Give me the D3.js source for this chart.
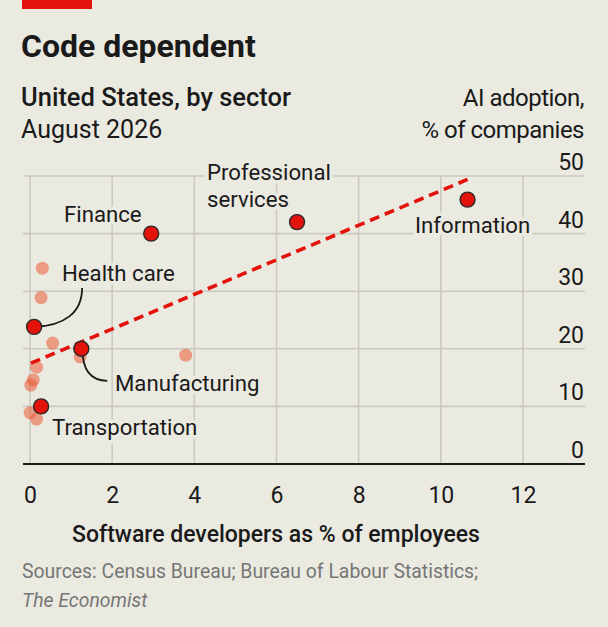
<!DOCTYPE html>
<html><head><meta charset="utf-8">
<script src="https://cdn.jsdelivr.net/npm/d3@7"></script>
<style>
html,body{margin:0;padding:0;background:#ebeae1;}
svg{display:block;}
text{font-family:"Roboto","Liberation Sans",sans-serif;fill:#1a1a1a;}
</style></head>
<body>
<svg id="c" width="608" height="627"></svg>
<script>
// ---- data ----
const labelledNames = ["Finance","Professional services","Information","Health care","Manufacturing","Transportation"];
const labelledX = [2.95, 6.5, 10.65, 0.1, 1.25, 0.27];
const labelledY = [40, 42, 45.9, 23.8, 20, 10];
const otherX = [0.3, 0.27, 0.55, 1.22, 3.79, 0.16, 0.08, 0.02, 0, 0.16];
const otherY = [34, 28.9, 21, 18.6, 18.9, 16.8, 14.6, 13.7, 8.9, 7.8];
const trendX = [0.02, 10.65];
const trendY = [17.5, 49.4];
const xTicks = [0, 2, 4, 6, 8, 10, 12];
const yTicks = [0, 10, 20, 30, 40, 50];

const svg = d3.select("#c");
const W = 608, H = 627;
const BG = "#ebeae1";
svg.append("rect").attr("width", W).attr("height", H).attr("fill", BG);

const x = d3.scaleLinear().domain([0, 12]).range([30, 523]);
const y = d3.scaleLinear().domain([0, 50]).range([464, 176]);
const left = 23, right = 585;

// red tag
svg.append("rect").attr("x", 22).attr("y", 0).attr("width", 70).attr("height", 9).attr("fill", "#e3120b");

// titles
svg.append("text").attr("x", 21).attr("y", 57).attr("font-size", 32).attr("font-weight", 700)
  .text("Code dependent");
svg.append("text").attr("x", 21).attr("y", 106).attr("font-size", 25.5).attr("font-weight", 500)
  .text("United States, by sector");
svg.append("text").attr("x", 21).attr("y", 138).attr("font-size", 25)
  .text("August 2026");
svg.append("text").attr("x", 584).attr("y", 106).attr("font-size", 24).attr("text-anchor", "end")
  .attr("letter-spacing", -0.5).text("AI adoption,");
svg.append("text").attr("x", 584).attr("y", 138).attr("font-size", 24).attr("text-anchor", "end")
  .attr("letter-spacing", -0.5).text("% of companies");

// gridlines
const grid = svg.append("g");
grid.selectAll(".hg").data(yTicks.filter(d => d > 0)).join("line")
  .attr("x1", left).attr("x2", right).attr("y1", d => y(d)).attr("y2", d => y(d))
  .attr("stroke", "#cbc9c0").attr("stroke-width", 1.6);
grid.selectAll(".vg").data(xTicks).join("line")
  .attr("x1", d => x(d)).attr("x2", d => x(d)).attr("y1", y(50)).attr("y2", y(0))
  .attr("stroke", "#cbc9c0").attr("stroke-width", 1.6);

// y axis labels (right, above gridlines)
const yAxis = d3.axisRight(y).tickValues(yTicks).tickSize(0).tickPadding(0);
const gy = svg.append("g").attr("transform", `translate(${right - 1},0)`).call(yAxis);
gy.select(".domain").remove();
gy.selectAll("text").attr("x", 0).attr("dy", "-0.28em").attr("text-anchor", "end")
  .attr("font-size", 23).attr("fill", "#1a1a1a").style("font-family", "Roboto, sans-serif");

// x axis labels
const xAxis = d3.axisBottom(x).tickValues(xTicks).tickSize(0).tickPadding(0);
const gx = svg.append("g").attr("transform", `translate(0,${y(0)})`).call(xAxis);
gx.select(".domain").remove();
gx.selectAll("text").attr("y", 39).attr("dy", 0).attr("font-size", 23).attr("fill", "#1a1a1a")
  .style("font-family", "Roboto, sans-serif");

// baseline
svg.append("line").attr("x1", left).attr("x2", right).attr("y1", y(0)).attr("y2", y(0))
  .attr("stroke", "#1a1a1a").attr("stroke-width", 2);

// other points
const others = otherX.map((v, i) => ({x: v, y: otherY[i]}));
svg.append("g").selectAll("circle").data(others).join("circle")
  .attr("cx", d => x(d.x)).attr("cy", d => y(d.y)).attr("r", 6.5)
  .attr("fill", "#ea5a35").attr("fill-opacity", 0.55);

// trend line
const tr = trendX.map((v, i) => [x(v), y(trendY[i])]);
svg.append("path").attr("d", d3.line()(tr)).attr("fill", "none")
  .attr("stroke", "#e3120b").attr("stroke-width", 3.6).attr("stroke-dasharray", "10,6");

// leader lines
const labelled = labelledNames.map((n, i) => ({name: n, x: labelledX[i], y: labelledY[i]}));
const hc = labelled[3], mf = labelled[4];
svg.append("path")
  .attr("d", `M${x(hc.x) + 48},${y(hc.y) - 39} C${x(hc.x) + 48},${y(hc.y) - 14} ${x(hc.x) + 30},${y(hc.y) - 1} ${x(hc.x)},${y(hc.y)}`)
  .attr("fill", "none").attr("stroke", "#1a1a1a").attr("stroke-width", 1.8);
svg.append("path")
  .attr("d", `M${x(mf.x) + 1},${y(mf.y)} C${x(mf.x) + 1},${y(mf.y) + 20} ${x(mf.x) + 8},${y(mf.y) + 32} ${x(mf.x) + 26},${y(mf.y) + 32}`)
  .attr("fill", "none").attr("stroke", "#1a1a1a").attr("stroke-width", 1.8);

// labelled points
svg.append("g").selectAll("circle").data(labelled).join("circle")
  .attr("cx", d => x(d.x)).attr("cy", d => y(d.y)).attr("r", 7.5)
  .attr("fill", "#e3120b").attr("stroke", "#2a2a2a").attr("stroke-width", 1.4);

// labels (with background halo)
const labelPos = {
  "Finance": [[64, 222]],
  "Professional services": [[207, 180, "Professional"], [207, 207, "services"]],
  "Information": [[415, 233]],
  "Health care": [[62, 281]],
  "Manufacturing": [[115, 391]],
  "Transportation": [[52, 435]]
};
const lg = svg.append("g");
labelled.forEach(d => {
  labelPos[d.name].forEach(p => {
    lg.append("text").attr("x", p[0]).attr("y", p[1]).attr("font-size", 22.2)
      .attr("stroke", BG).attr("stroke-width", 7).attr("paint-order", "stroke")
      .attr("stroke-linejoin", "round")
      .text(p[2] || d.name);
  });
});

// axis title
svg.append("text").attr("x", 276).attr("y", 542).attr("text-anchor", "middle").attr("font-size", 23)
  .attr("font-weight", 500).text("Software developers as % of employees");

// sources
svg.append("text").attr("x", 22).attr("y", 578).attr("font-size", 19.4).style("fill", "#767676")
  .text("Sources: Census Bureau; Bureau of Labour Statistics;");
svg.append("text").attr("x", 22).attr("y", 607).attr("font-size", 19.4).attr("font-style", "italic")
  .style("fill", "#767676").text("The Economist");
</script>
</body></html>
